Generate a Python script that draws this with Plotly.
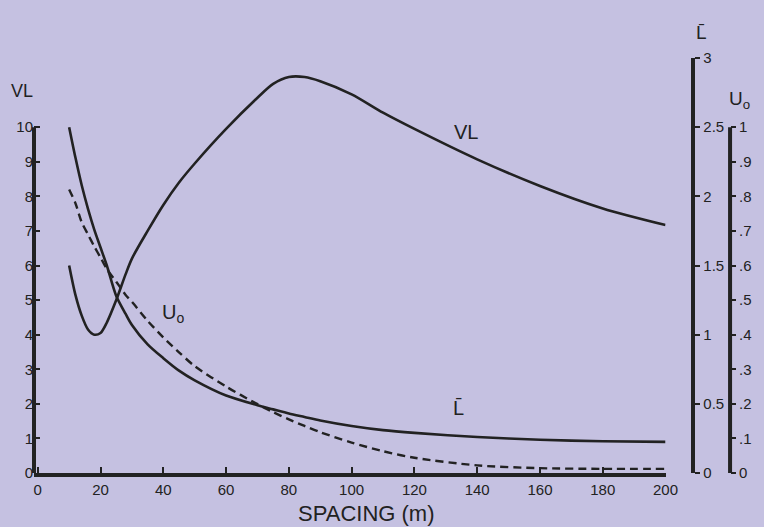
import plotly.graph_objects as go

spacing = [10, 12, 14, 16, 18, 20, 22, 25, 28, 30, 35, 40, 45, 50, 60, 70, 75, 80, 85, 90, 100, 110, 120, 140, 160, 180, 200]
vl = [6.0, 5.15, 4.55, 4.15, 4.0, 4.05, 4.35, 5.0, 5.75, 6.2, 7.0, 7.75, 8.4, 8.95, 9.95, 10.85, 11.25, 11.45, 11.45, 11.33, 10.95, 10.42, 9.95, 9.07, 8.3, 7.65, 7.17]
lbar = [2.5, 2.28, 2.08, 1.91, 1.76, 1.63, 1.5, 1.28, 1.15, 1.07, 0.93, 0.83, 0.74, 0.67, 0.56, 0.49, 0.46, 0.43, 0.405, 0.38, 0.34, 0.31, 0.29, 0.26, 0.24, 0.23, 0.225]
u0 = [0.82, 0.78, 0.725, 0.69, 0.655, 0.623, 0.59, 0.553, 0.515, 0.495, 0.44, 0.392, 0.349, 0.309, 0.25, 0.199, 0.176, 0.155, 0.136, 0.118, 0.088, 0.063, 0.044, 0.022, 0.014, 0.012, 0.012]

x_ticks = [0, 20, 40, 60, 80, 100, 120, 140, 160, 180, 200]
vl_ticks = list(range(0, 11))
l_ticks = [0, 0.5, 1, 1.5, 2, 2.5, 3]
l_text = ["0", "0.5", "1", "1.5", "2", "2.5", "3"]
u_ticks = [0, 0.1, 0.2, 0.3, 0.4, 0.5, 0.6, 0.7, 0.8, 0.9, 1.0]
u_text = ["0", ".1", ".2", ".3", ".4", ".5", ".6", ".7", ".8", ".9", "1"]

BG = "#c5c1e1"
INK = "#222222"
FONT = "Liberation Sans, Arial, sans-serif"

fig = go.Figure()
fig.add_trace(go.Scatter(x=spacing, y=vl, mode="lines", line=dict(color=INK, width=2.6, shape="spline", smoothing=0.8),
                         yaxis="y", showlegend=False, hoverinfo="skip"))
fig.add_trace(go.Scatter(x=spacing, y=lbar, mode="lines", line=dict(color=INK, width=2.6, shape="spline", smoothing=0.8),
                         yaxis="y2", showlegend=False, hoverinfo="skip"))
fig.add_trace(go.Scatter(x=spacing, y=u0, mode="lines",
                         line=dict(color=INK, width=2.4, shape="spline", smoothing=0.8, dash="8px,5px"),
                         yaxis="y3", showlegend=False, hoverinfo="skip"))

XD = 636 / 710
POS_L = (698 - 34) / 710
POS_U = (735 - 34) / 710

fig.update_layout(
    width=764, height=527,
    margin=dict(l=34, r=20, t=58, b=54),
    paper_bgcolor=BG, plot_bgcolor=BG,
    font=dict(family=FONT, color=INK, size=15),
    xaxis=dict(domain=[0, XD], range=[-1.2, 200], tickvals=x_ticks, ticks="inside", ticklen=6, tickwidth=2,
               tickcolor=INK, showline=True, linewidth=4, linecolor=INK, showgrid=False, zeroline=False,
               tickfont=dict(size=15)),
    yaxis=dict(range=[0, 12], tickvals=vl_ticks, ticks="inside", ticklen=6, tickwidth=2, tickcolor=INK,
               showline=False, showgrid=False, zeroline=False, tickfont=dict(size=15)),
    yaxis2=dict(range=[0, 3], tickvals=l_ticks, ticktext=l_text, overlaying="y", side="right", anchor="free",
                position=POS_L, ticks="outside", ticklen=5, tickwidth=2, tickcolor=INK, showline=True,
                linewidth=4, linecolor=INK, showgrid=False, zeroline=False, tickfont=dict(size=15)),
    yaxis3=dict(range=[0, 1.2], tickvals=u_ticks, ticktext=u_text, overlaying="y", side="right", anchor="free",
                position=POS_U, ticks="outside", ticklen=5, tickwidth=2, tickcolor=INK, showline=False,
                showgrid=False, zeroline=False, tickfont=dict(size=15)),
)

fig.add_shape(type="line", xref="paper", yref="y", x0=0, x1=0, y0=0, y1=10, line=dict(color=INK, width=4))
fig.add_shape(type="line", xref="paper", yref="y3", x0=POS_U, x1=POS_U, y0=0, y1=1, line=dict(color=INK, width=4))

def px(xp):
    return (xp - 34) / 710

def py(yp):
    return (473 - yp) / 415

fig.add_annotation(text="SPACING (m)", xref="paper", yref="paper", x=px(368), y=py(513), xanchor="center",
                   yanchor="middle", showarrow=False, font=dict(size=22))
fig.add_annotation(text="VL", xref="paper", yref="paper", x=px(22), y=py(91), xanchor="center", yanchor="middle",
                   showarrow=False, font=dict(size=18))
fig.add_annotation(text="L\u0304", xref="paper", yref="paper", x=px(706), y=py(32), xanchor="center",
                   yanchor="middle", showarrow=False, font=dict(size=19))
fig.add_annotation(text="U<sub>o</sub>", xref="paper", yref="paper", x=px(745), y=py(100), xanchor="center",
                   yanchor="middle", showarrow=False, font=dict(size=19))
fig.add_annotation(text="VL", x=136.5, y=9.85, xref="x", yref="y", showarrow=False, font=dict(size=20))
fig.add_annotation(text="U<sub>o</sub>", x=43, y=0.46, xref="x", yref="y3", showarrow=False, font=dict(size=20))
fig.add_annotation(text="L\u0304", x=134, y=0.47, xref="x", yref="y2", showarrow=False, font=dict(size=20))

fig.write_html("out.html", config=dict(displayModeBar=False),
               post_script="document.body.style.margin='0px';document.body.style.background='%s';" % BG)
